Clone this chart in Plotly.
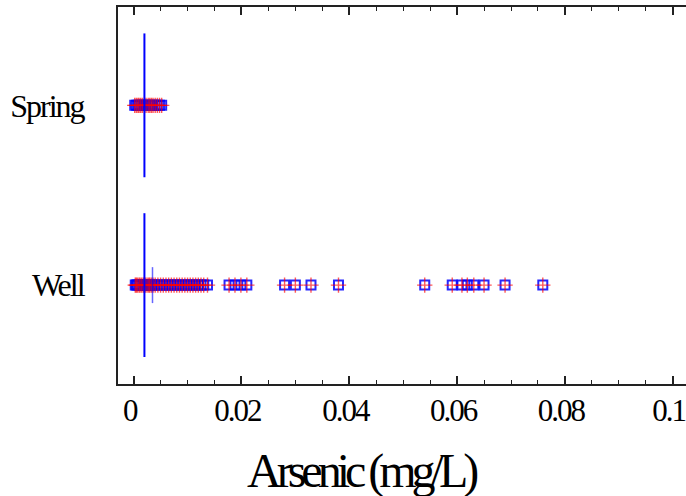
import plotly.graph_objects as go

# ---- data (mg/L) ----
groups = ["Well", "Spring"]
well_arsenic = [0.0003, 0.0005, 0.0007, 0.0010, 0.0012, 0.0015, 0.0018, 0.0020,
                0.0022, 0.0025, 0.0028, 0.0030, 0.0033, 0.0036, 0.0040, 0.0045,
                0.0050, 0.0055, 0.0060, 0.0065, 0.0070, 0.0075, 0.0080, 0.0085,
                0.0090, 0.0095, 0.0100, 0.0105, 0.0110, 0.0115, 0.0120, 0.0125,
                0.0130, 0.0137, 0.0177, 0.0188, 0.0199, 0.0210, 0.0280, 0.0300,
                0.0329, 0.0380, 0.0540, 0.0591, 0.0609, 0.0619, 0.0631, 0.0650,
                0.0689, 0.0759]
spring_arsenic = [0.0002, 0.0005, 0.0008, 0.0010, 0.0013, 0.0016, 0.0020, 0.0023,
                  0.0027, 0.0030, 0.0033, 0.0036, 0.0040, 0.0044, 0.0048, 0.0052]
center_line = {"Well": 0.0020, "Spring": 0.0020}
mean_line = {"Well": 0.0035}
x_ticks = [0, 0.02, 0.04, 0.06, 0.08, 0.1]
x_tick_labels = ["0", "0.02", "0.04", "0.06", "0.08", "0.1"]
x_title = "Arsenic (mg/L)"

pos = {g: i for i, g in enumerate(groups)}
FONT = "Liberation Serif, Times New Roman, serif"

fig = go.Figure()

for g, vals in (("Well", well_arsenic), ("Spring", spring_arsenic)):
    y = [pos[g]] * len(vals)
    fig.add_trace(go.Scatter(x=vals, y=y, mode="markers", showlegend=False,
                             marker=dict(symbol="square-open", size=9, color="rgba(0,0,255,0.85)",
                                         line=dict(width=2, color="rgba(0,0,255,0.85)"))))
    fig.add_trace(go.Scatter(x=vals, y=y, mode="markers", showlegend=False,
                             marker=dict(symbol="cross-thin-open", size=11, color="rgba(255,0,0,0.65)",
                                         line=dict(width=1.4, color="rgba(255,0,0,0.65)"))))

for g, v in center_line.items():
    fig.add_trace(go.Scatter(x=[v, v], y=[pos[g] - 0.4, pos[g] + 0.4], mode="lines",
                             showlegend=False, line=dict(color="#0000ff", width=2)))
for g, v in mean_line.items():
    fig.add_trace(go.Scatter(x=[v, v], y=[pos[g] - 0.1, pos[g] + 0.1], mode="lines",
                             showlegend=False, line=dict(color="rgba(0,0,255,0.6)", width=1.5)))

# plot area runs past the right edge of the 686px window (as in the reference)
fig.add_annotation(text=x_title, xref="paper", yref="paper", x=0.416, y=-0.155,
                   xanchor="center", yanchor="top", showarrow=False,
                   font=dict(size=48, family=FONT, color="black"))

fig.update_layout(
    width=700, height=496,
    margin=dict(l=118, r=0, t=7, b=112),
    plot_bgcolor="white", paper_bgcolor="white",
    font=dict(family=FONT, color="black"),
    xaxis=dict(range=[-0.0029, 0.10506], tickvals=x_ticks, ticktext=x_tick_labels,
               automargin=False, ticklabeloverflow="allow",
               showgrid=False, zeroline=False, showline=True, linecolor="#222", linewidth=2,
               mirror="ticks", ticks="inside", ticklen=8, tickwidth=2, tickcolor="#222",
               minor=dict(dtick=0.005, ticks="inside", ticklen=4, tickwidth=1, tickcolor="#222"),
               tickfont=dict(size=31, family=FONT), ticklabelshift=-4, ticklabelstandoff=-2),
    yaxis=dict(range=[-0.55, 1.547], tickvals=[pos[g] for g in groups], ticktext=groups,
               automargin=False,
               showgrid=False, zeroline=False, showline=True, linecolor="#222", linewidth=2,
               ticks="", tickfont=dict(size=32, family=FONT), ticklabelstandoff=26),
)

post = """
document.body.style.margin = '0';
document.body.style.overflow = 'hidden';
var s = document.createElement('style');
s.textContent = 'html,body{margin:0;overflow:hidden;} .xtick text{letter-spacing:-2px;} .ytick text{letter-spacing:-2px;} .annotation-text{letter-spacing:-5px;}';
document.head.appendChild(s);
"""

fig.write_html("out.html", post_script=post, config={"displayModeBar": False})
